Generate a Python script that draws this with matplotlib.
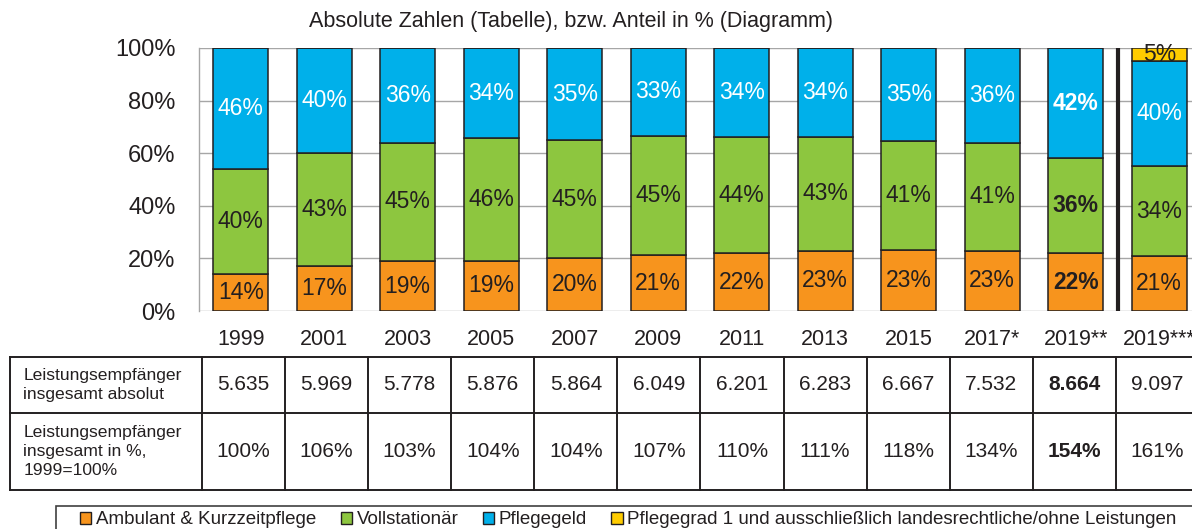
import matplotlib
matplotlib.use("Agg")
import matplotlib.pyplot as plt
from matplotlib.patches import Patch, Rectangle
import numpy as np

plt.rcParams['font.family'] = ['Liberation Sans', 'DejaVu Sans']

years = ["1999", "2001", "2003", "2005", "2007", "2009", "2011", "2013",
         "2015", "2017*", "2019**", "2019***"]
ambulant = [14, 17, 19, 19, 20, 21, 22, 23, 23, 23, 22, 21]
vollstationaer = [40, 43, 45, 46, 45, 45, 44, 43, 41, 41, 36, 34]
pflegegeld = [46, 40, 36, 34, 35, 33, 34, 34, 35, 36, 42, 40]
pflegegrad1 = [0, 0, 0, 0, 0, 0, 0, 0, 0, 0, 0, 5]
absolut = ["5.635", "5.969", "5.778", "5.876", "5.864", "6.049", "6.201",
           "6.283", "6.667", "7.532", "8.664", "9.097"]
index_pct = ["100%", "106%", "103%", "104%", "104%", "107%", "110%", "111%",
             "118%", "134%", "154%", "161%"]
series_names = ["Ambulant & Kurzzeitpflege", "Vollstationär", "Pflegegeld",
                "Pflegegrad 1 und ausschließlich landesrechtliche/ohne Leistungen"]
row_headers = ["Leistungsempfänger\ninsgesamt absolut",
               "Leistungsempfänger\ninsgesamt in %,\n1999=100%"]
title = "Absolute Zahlen (Tabelle), bzw. Anteil in % (Diagramm)"
bold_col = 10
break_after = 10

colors = ["#F7941D", "#8DC63F", "#00B0EA", "#FFCC00"]
label_colors = ["#231F20", "#231F20", "white", "#231F20"]
dark = "#231F20"

W, H = 1192, 529
fig = plt.figure(figsize=(W / 100, H / 100), dpi=100)

def px_axes(l, t, r, b):
    return fig.add_axes([l / W, 1 - b / H, (r - l) / W, (b - t) / H])

# ---- bar chart ----
ax = px_axes(199, 48, 1201, 311)
data = np.array([ambulant, vollstationaer, pflegegeld, pflegegrad1], dtype=float)
shares = data / data.sum(axis=0) * 100
x = np.arange(len(years))
bottom = np.zeros(len(years))
for i in range(4):
    bars = ax.bar(x, shares[i], 0.66, bottom=bottom, color=colors[i],
                  edgecolor=dark, linewidth=1.1, zorder=3)
    for j, b in enumerate(bars):
        if data[i, j] <= 0:
            continue
        ax.text(x[j], bottom[j] + shares[i, j] / 2, f"{int(data[i, j])}%",
                ha="center", va="center", fontsize=16.5, color=label_colors[i],
                fontweight="bold" if j == bold_col else "normal", zorder=4)
    bottom += shares[i]

ax.axvline(break_after + 0.5, 0, 1.0, color=dark, lw=3, zorder=5,
           clip_on=False, solid_capstyle="butt")
ax.set_xlim(-0.5, len(years) - 0.5)
ax.set_ylim(0, 100)
ax.set_yticks(np.arange(0, 101, 20))
ax.set_yticklabels([f"{v}%" for v in range(0, 101, 20)])
ax.set_xticks(x)
ax.set_xticklabels(years)
ax.tick_params(axis="y", length=0, pad=17, labelsize=17, labelcolor=dark)
ax.tick_params(axis="x", length=0, pad=13, labelsize=15.5, labelcolor=dark)
ax.grid(axis="y", color="#A6A6A6", lw=1, zorder=0)
ax.set_axisbelow(True)
for s in ["top", "right", "bottom"]:
    ax.spines[s].set_visible(False)
ax.spines["left"].set_color("#A6A6A6")
ax.spines["left"].set_linewidth(1)

fig.text(571 / W, 1 - 21 / H, title, ha="center", va="center",
         fontsize=15.5, color=dark)

# ---- table ----
tab = px_axes(10, 357, 1199, 490)
tab.set_xlim(-2.81, len(years) - 0.5)
tab.set_ylim(133, 0)
tab.axis("off")
row_edges = [0, 56, 133]
lw_t = 1.4
for yv in row_edges:
    tab.plot([-2.81, len(years) - 0.5], [yv, yv], color=dark, lw=lw_t,
             clip_on=False, solid_capstyle="projecting")
for xv in [-2.81] + list(np.arange(-0.5, len(years), 1.0)):
    tab.plot([xv, xv], [0, 133], color=dark, lw=lw_t, clip_on=False)
rows = [absolut, index_pct]
for r in range(2):
    yc = (row_edges[r] + row_edges[r + 1]) / 2
    tab.text(-2.81 + 0.16, yc, row_headers[r], ha="left", va="center",
             fontsize=12.6, color=dark, linespacing=1.35)
    for j, val in enumerate(rows[r]):
        tab.text(j, yc, val, ha="center", va="center", fontsize=15,
                 color=dark, fontweight="bold" if j == bold_col else "normal")

# ---- legend ----
handles = [Patch(facecolor=c, edgecolor=dark, linewidth=1.0) for c in colors]
fig.legend(handles, series_names, loc="center left",
           bbox_to_anchor=(80 / W, 1 - 520 / H), ncol=4, frameon=False,
           fontsize=13.5, handlelength=0.6, handleheight=0.6,
           handletextpad=0.25, columnspacing=1.3, borderpad=0,
           borderaxespad=0, labelcolor=dark)
fig.add_artist(Rectangle((56 / W, -0.05), (1200 - 56) / W, (529 - 506) / H + 0.05,
                         transform=fig.transFigure, fill=False,
                         edgecolor="#404040", lw=1.2, clip_on=False))

fig.savefig("out.png", dpi=100)
